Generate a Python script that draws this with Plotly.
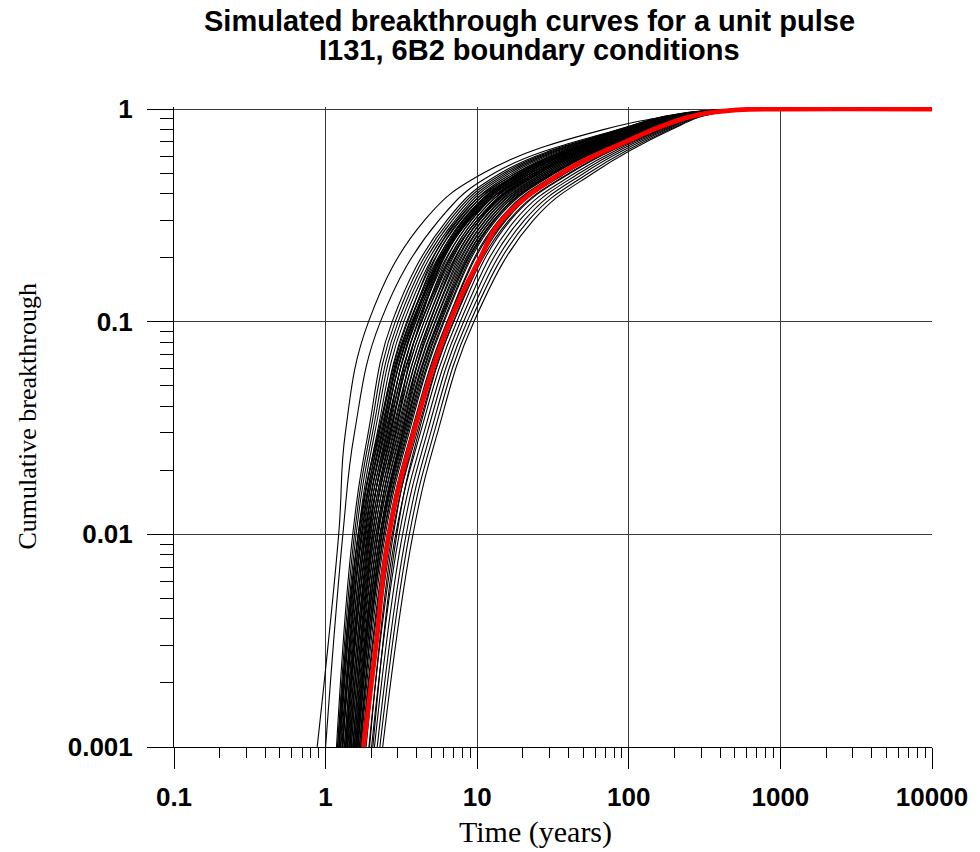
import plotly.graph_objects as go

# ---------------- data ----------------
# cumulative breakthrough levels at which each simulated curve was read
Y_LEVELS = [0.001, 0.01, 0.03, 0.1, 0.3, 0.5, 0.8, 0.95, 1.0]

# times (years) at which every black realisation reaches Y_LEVELS
BLACK_T = [
    [0.88, 1.22, 1.35, 1.92, 4.50, 11.0, 68, 270, 1000],
    [1.00, 1.30, 1.55, 2.30, 5.60, 13.0, 85, 230, 1050],
    [1.18, 1.51, 1.91, 2.75, 6.32, 14.3, 86.3, 214, 1050],
    [1.20, 1.55, 1.97, 2.88, 6.59, 15.0, 88.7, 218, 1060],
    [1.22, 1.59, 2.04, 3.01, 6.87, 15.7, 91.2, 222, 1060],
    [1.25, 1.64, 2.11, 3.14, 7.16, 16.4, 93.8, 226, 1070],
    [1.28, 1.68, 2.19, 3.28, 7.46, 17.2, 96.4, 231, 1070],
    [1.30, 1.73, 2.26, 3.43, 7.78, 18.0, 99.1, 235, 1080],
    [1.33, 1.78, 2.34, 3.58, 8.11, 18.9, 102, 239, 1080],
    [1.36, 1.83, 2.43, 3.74, 8.45, 19.8, 105, 244, 1090],
    [1.39, 1.88, 2.51, 3.91, 8.81, 20.7, 108, 248, 1090],
    [1.42, 1.93, 2.60, 4.08, 9.18, 21.7, 111, 253, 1100],
    [1.45, 1.99, 2.69, 4.27, 9.57, 22.7, 114, 258, 1100],
    [1.48, 2.04, 2.79, 4.46, 9.98, 23.8, 117, 262, 1110],
    [1.51, 2.10, 2.88, 4.66, 10.4, 24.9, 120, 267, 1110],
    [1.54, 2.16, 2.99, 4.86, 10.8, 26.1, 124, 272, 1120],
    [1.57, 2.22, 3.09, 5.08, 11.3, 27.3, 127, 277, 1120],
    [1.60, 2.28, 3.20, 5.31, 11.8, 28.6, 131, 282, 1130],
    [1.64, 2.34, 3.31, 5.55, 12.3, 29.9, 134, 288, 1130],
    [1.67, 2.41, 3.43, 5.79, 12.8, 31.3, 138, 293, 1140],
    [1.71, 2.48, 3.55, 6.05, 13.3, 32.8, 142, 299, 1140],
    [1.20, 1.64, 2.22, 3.48, 7.35, 18.2, 101, 241, 1080],
    [1.23, 1.69, 2.30, 3.62, 7.67, 19.1, 104, 245, 1080],
    [1.26, 1.75, 2.38, 3.78, 8.02, 19.9, 106, 249, 1090],
    [1.29, 1.80, 2.47, 3.94, 8.38, 20.8, 109, 253, 1090],
    [1.33, 1.85, 2.55, 4.10, 8.75, 21.7, 112, 257, 1100],
    [1.36, 1.91, 2.64, 4.28, 9.14, 22.7, 115, 261, 1100],
    [1.40, 1.97, 2.74, 4.46, 9.55, 23.7, 118, 265, 1110],
    [1.43, 2.03, 2.83, 4.65, 9.98, 24.8, 121, 270, 1110],
    [1.47, 2.09, 2.93, 4.84, 10.4, 25.9, 124, 274, 1120],
    [1.51, 2.15, 3.03, 5.05, 10.9, 27.0, 127, 279, 1120],
    [1.55, 2.22, 3.14, 5.26, 11.4, 28.2, 130, 283, 1130],
    [1.58, 2.29, 3.25, 5.48, 11.9, 29.5, 134, 288, 1130],
    [1.63, 2.36, 3.37, 5.71, 12.4, 30.8, 137, 292, 1140],
    [1.67, 2.43, 3.48, 5.96, 13.0, 32.2, 141, 297, 1140],
    [1.74, 2.55, 3.67, 6.32, 13.9, 34.4, 146, 304, 1150],
    [1.60, 2.20, 2.90, 4.20, 8.40, 18.9, 100, 238, 1080],
    [1.23, 1.65, 2.25, 3.60, 8.60, 24.0, 125, 280, 1120],
    [1.45, 1.95, 2.55, 3.85, 8.20, 19.5, 106, 246, 1090],
    [1.35, 1.90, 2.65, 4.30, 10.0, 25.5, 128, 282, 1120],
    [1.70, 2.35, 3.20, 4.90, 10.3, 24.0, 118, 268, 1110],
    [1.30, 1.72, 2.35, 3.70, 8.90, 22.5, 117, 266, 1100],
    [1.52, 2.05, 2.70, 4.05, 8.60, 20.5, 110, 255, 1100],
    [1.62, 2.30, 3.30, 5.60, 12.9, 31.5, 139, 295, 1140],
    [1.38, 1.82, 2.42, 3.80, 8.70, 21.0, 111, 252, 1100],
    [1.75, 2.60, 3.75, 6.40, 14.2, 35.0, 147, 305, 1150],
    [1.95, 2.80, 3.90, 6.70, 15.2, 38.0, 153, 312, 1160],
    [2.05, 2.95, 4.10, 7.00, 16.2, 40.5, 159, 320, 1170],
    [1.85, 2.75, 4.00, 6.95, 15.5, 38.5, 155, 316, 1160],
    [1.93, 2.90, 4.22, 7.33, 16.6, 41.3, 161, 323, 1170],
    [2.01, 3.06, 4.45, 7.73, 17.8, 44.3, 166, 330, 1180],
    [2.10, 3.22, 4.68, 8.13, 19.1, 47.4, 172, 337, 1190],
    [2.19, 3.40, 4.93, 8.57, 20.5, 50.8, 178, 344, 1200],
    [2.28, 3.57, 5.19, 9.02, 21.9, 54.5, 185, 351, 1210],
    [2.38, 3.77, 5.47, 9.51, 23.5, 58.3, 191, 358, 1220],
]

# the highlighted (red) curve
RED_Y = [0.001, 0.003, 0.01, 0.03, 0.1, 0.2, 0.3, 0.5, 0.7, 0.85, 0.94, 0.99, 1.0, 1.0]
RED_T = [1.78, 2.15, 2.62, 3.8, 6.6, 10.5, 14.5, 36, 95, 180, 290, 520, 1100, 10000]

X_TICKS = [0.1, 1, 10, 100, 1000, 10000]
X_TICK_TEXT = ["0.1", "1", "10", "100", "1000", "10000"]
Y_TICKS = [0.001, 0.01, 0.1, 1]
Y_TICK_TEXT = ["0.001", "0.01", "0.1", "1"]

TITLE_1 = "Simulated breakthrough curves for a unit pulse"
TITLE_2 = "I131, 6B2 boundary conditions"
X_TITLE = "Time (years)"
Y_TITLE = "Cumulative breakthrough"

# ---------------- figure ----------------
fig = go.Figure()
for row in BLACK_T:
    fig.add_trace(go.Scatter(
        x=row, y=Y_LEVELS, mode="lines",
        line=dict(color="black", width=1.1, shape="spline", smoothing=1.2),
        hoverinfo="skip", showlegend=False))
fig.add_trace(go.Scatter(
    x=RED_T, y=RED_Y, mode="lines",
    line=dict(color="#ff0000", width=4.8, shape="spline", smoothing=1.2),
    hoverinfo="skip", showlegend=False))

x_minor = [m * 10 ** k for k in range(-1, 4) for m in range(2, 10)]
y_minor = [m * 10 ** k for k in range(-3, 0) for m in range(2, 10)]

tick_font = dict(family="Liberation Sans, Arial, sans-serif", size=26,
                 color="black", weight="bold")

fig.update_xaxes(
    type="log", range=[-1, 4],
    tickmode="array", tickvals=X_TICKS, ticktext=X_TICK_TEXT,
    ticks="outside", ticklen=21, tickwidth=1, tickcolor="black",
    ticklabelstandoff=6,
    showline=True, linecolor="black", linewidth=1,
    showgrid=True, gridcolor="#3a3a3a", gridwidth=1,
    zeroline=False, tickfont=tick_font,
    minor=dict(tickmode="array", tickvals=x_minor, ticks="outside",
               ticklen=10, tickcolor="black", tickwidth=1, showgrid=False),
)
fig.update_yaxes(
    type="log", range=[-3, 0.0094],
    tickmode="array", tickvals=Y_TICKS, ticktext=Y_TICK_TEXT,
    ticks="outside", ticklen=26, tickwidth=1, tickcolor="black",
    ticklabelstandoff=9,
    showline=True, linecolor="black", linewidth=1,
    showgrid=True, gridcolor="#3a3a3a", gridwidth=1,
    zeroline=False, tickfont=tick_font,
    minor=dict(tickmode="array", tickvals=y_minor, ticks="outside",
               ticklen=13, tickcolor="black", tickwidth=1, showgrid=False),
)

title_font = dict(family="Liberation Sans, Arial, sans-serif", size=29,
                  color="black", weight="bold")
serif = "Liberation Serif, Times New Roman, serif"
fig.update_layout(
    width=980, height=852,
    margin=dict(l=174, r=46, t=107, b=105, pad=0),
    paper_bgcolor="white", plot_bgcolor="white",
    showlegend=False,
    annotations=[
        dict(text=TITLE_1, xref="paper", yref="paper", x=0.4684, y=1.135,
             xanchor="center", yanchor="middle", showarrow=False, font=title_font),
        dict(text=TITLE_2, xref="paper", yref="paper", x=0.4684, y=1.089,
             xanchor="center", yanchor="middle", showarrow=False, font=title_font),
        dict(text=X_TITLE, xref="paper", yref="paper", x=0.4763, y=-0.1328,
             xanchor="center", yanchor="middle", showarrow=False,
             font=dict(family=serif, size=30, color="black")),
        dict(text=Y_TITLE, xref="paper", yref="paper", x=-0.1934, y=0.517,
             xanchor="center", yanchor="middle", showarrow=False, textangle=-90,
             font=dict(family=serif, size=26, color="black")),
    ],
)

fig.write_html("out.html")
